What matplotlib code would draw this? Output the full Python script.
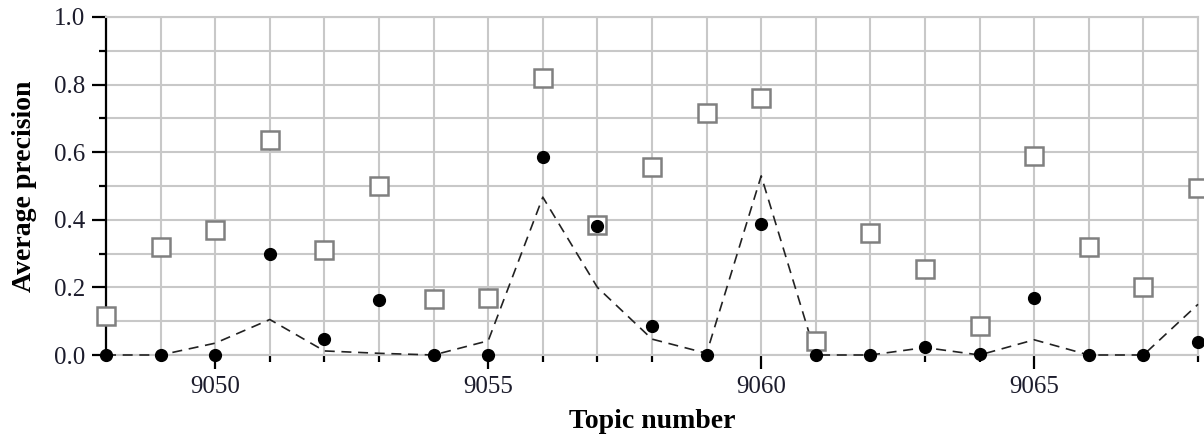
import numpy as np
import matplotlib
matplotlib.use('Agg')
from matplotlib import pyplot as plt
from matplotlib.ticker import MultipleLocator

# topic numbers and the three runs
topics = np.arange(9048, 9069)

apSquares = [0.115, 0.32, 0.37, 0.635, 0.31, 0.50, 0.165, 0.17, 0.82, 0.385,
             0.555, 0.715, 0.76, 0.04, 0.36, 0.255, 0.085, 0.59, 0.32, 0.20,
             0.495]

apDots = [0.0, 0.0, 0.0, 0.30, 0.047, 0.163, 0.0, 0.0, 0.585, 0.383,
          0.085, 0.0, 0.387, 0.0, 0.0, 0.024, 0.002, 0.168, 0.0, 0.0,
          0.037]

apDashed = [0.0, 0.0, 0.035, 0.105, 0.012, 0.005, 0.0, 0.042, 0.467, 0.20,
            0.047, 0.005, 0.53, 0.0, 0.0, 0.022, 0.0, 0.045, 0.0, 0.0,
            0.15]

gridCol = '#c8c8c8'
tickCol = '#1c1c2c'

plt.rcParams['font.family'] = ['Liberation Serif', 'DejaVu Serif']

fig = plt.figure(figsize=(12.04, 4.37), dpi=100)
ax = fig.add_axes([106/1204, 82/437, 1092/1204, 338/437])

ax.plot(topics, apDashed, '--', color='#222222', lw=1.2,
        dashes=(6, 4), zorder=3, clip_on=False)
ax.plot(topics, apSquares, 's', ms=13, mfc='white', mec='#808080', mew=1.8,
        zorder=4, clip_on=False)
ax.plot(topics, apDots, 'o', ms=8.5, color='black', zorder=5, clip_on=False)

ax.set_xlim(9048, 9068)
ax.set_ylim(0, 1.0)

ax.xaxis.set_major_locator(MultipleLocator(5))
ax.xaxis.set_minor_locator(MultipleLocator(1))
ax.yaxis.set_major_locator(MultipleLocator(0.2))
ax.yaxis.set_minor_locator(MultipleLocator(0.1))
ax.yaxis.set_major_formatter(matplotlib.ticker.FormatStrFormatter('%.1f'))

ax.grid(True, which='both', color=gridCol, lw=1.5, zorder=0)
ax.set_axisbelow(True)

for side in ['top', 'right', 'bottom']:
    ax.spines[side].set_color(gridCol)
    ax.spines[side].set_linewidth(1.5)
ax.spines['left'].set_color('black')
ax.spines['left'].set_linewidth(1.6)

ax.tick_params(axis='both', which='major', length=10, width=1.6,
               color='black', labelsize=18, labelcolor=tickCol, pad=5)
ax.tick_params(axis='both', which='minor', length=5, width=1.6,
               color='black')

ax.set_xlabel('Topic number', fontsize=20, fontweight='bold', labelpad=8)
ax.set_ylabel('Average precision', fontsize=20, fontweight='bold',
              labelpad=12)

plt.savefig('out.png', dpi=100)
plt.close(fig)
